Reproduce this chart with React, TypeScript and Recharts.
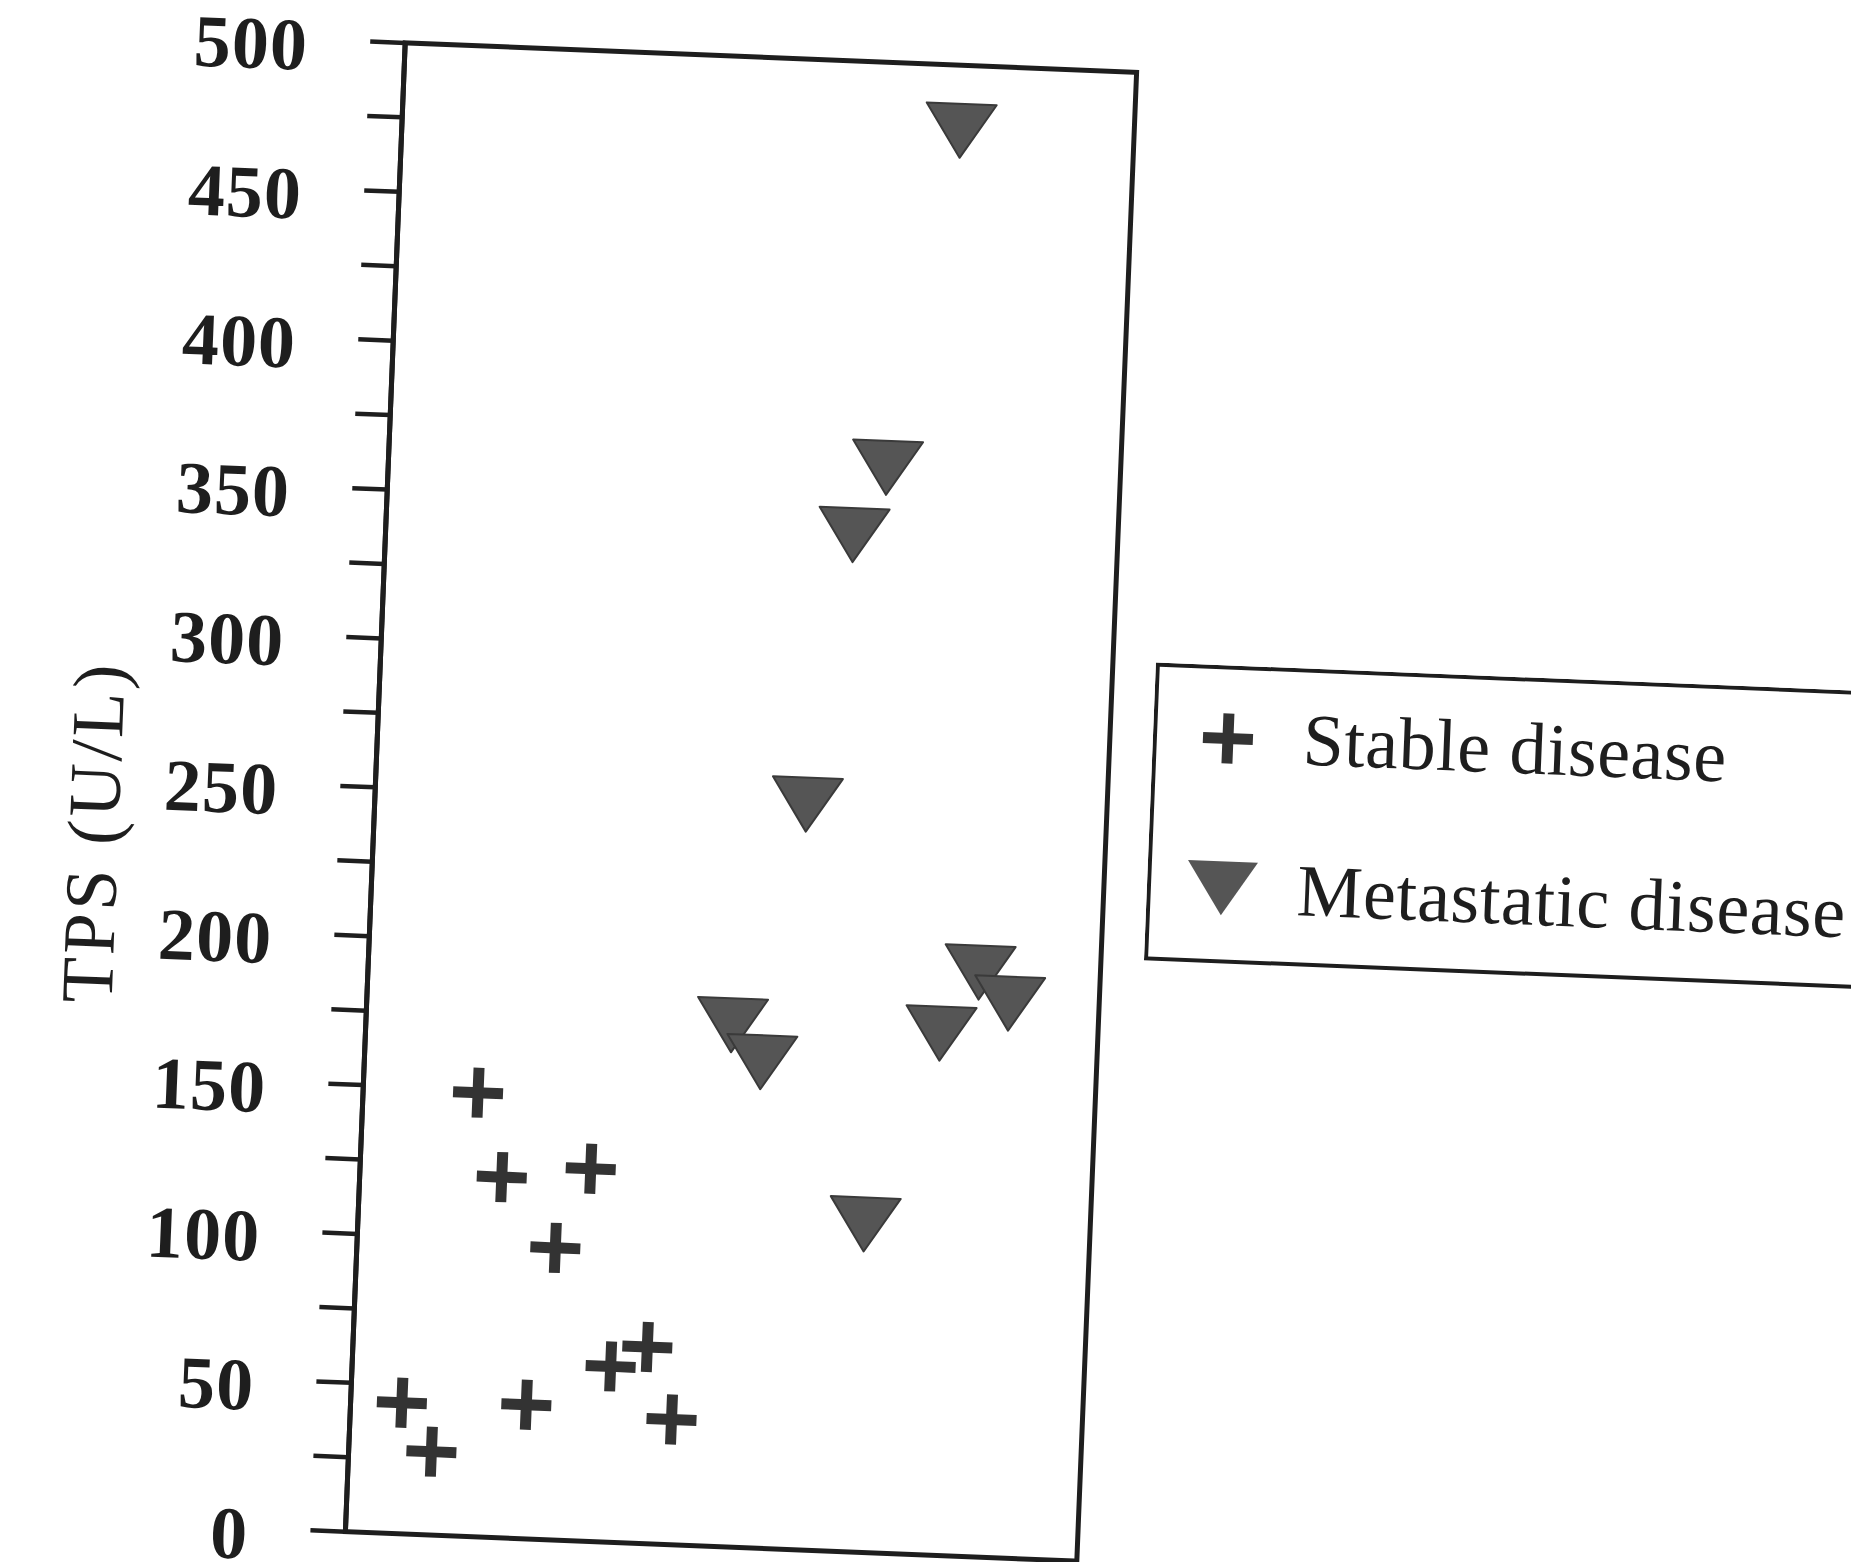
import React from 'react';
import { ScatterChart, Scatter, XAxis, YAxis, ReferenceArea, Legend, Label } from 'recharts';

// values (x has no scale, only relative spread 0-100)
const stableX = [7.0, 11.3, 15.7, 19.4, 31.5, 27.1, 24.0, 35.3, 40.2, 43.9];
const stableY = [44, 28, 149, 121, 125, 98, 45, 59, 66, 42];
const metastaticX = [76.3, 68.1, 63.9, 59.0, 50.0, 54.2, 69.2, 78.5, 83.5, 87.7];
const metastaticY = [478, 364, 341, 250, 175, 163, 110, 175, 196, 186];
const yTicks = [0, 25, 50, 75, 100, 125, 150, 175, 200, 225, 250, 275, 300, 325, 350, 375, 400, 425, 450, 475, 500];
const seriesNames = ['Stable disease', 'Metastatic disease'];
const yTitle = 'TPS\u00a0(U/L)';

const stableData = stableX.map((x, i) => ({ x, y: stableY[i] }));
const metastaticData = metastaticX.map((x, i) => ({ x, y: metastaticY[i] }));

const SERIF = '"Liberation Serif", "Times New Roman", serif';
const INK = '#1e1e1e';

const crossPath = (cx: number, cy: number) => {
  const a = 25, t = 5.5;
  return `M${cx - t},${cy - a}H${cx + t}V${cy - t}H${cx + a}V${cy + t}H${cx + t}V${cy + a}H${cx - t}V${cy + t}H${cx - a}V${cy - t}H${cx - t}Z`;
};
const trianglePath = (cx: number, cy: number) => {
  const w = 35, h = 27;
  return `M${cx - w},${cy - h}L${cx + w},${cy - h}L${cx},${cy + h}Z`;
};

const CrossShape = (props: any) => <path d={crossPath(props.cx, props.cy)} fill="#333" />;
const TriangleShape = (props: any) => (
  <path d={trianglePath(props.cx, props.cy)} fill="#555" stroke="#3a3a3a" strokeWidth={2} strokeLinejoin="round" />
);

const renderTick = ({ x, y, payload }: any) => {
  if (payload.value % 50 !== 0) return <g />;
  return (
    <text x={x} y={y} dy={31} textAnchor="end" fontFamily={SERIF} fontWeight="bold"
      fontSize={74} letterSpacing={1} fill={INK}>
      {payload.value}
    </text>
  );
};

const renderTitle = ({ viewBox }: any) => {
  const cx = viewBox.x + 96;
  const cy = viewBox.y + viewBox.height / 2 + 56;
  return (
    <text x={cx} y={cy} dy={24} textAnchor="middle" transform={`rotate(-90, ${cx}, ${cy})`}
      fontFamily={SERIF} fontSize={74} letterSpacing={3} fill={INK}>
      {yTitle}
    </text>
  );
};

const renderLegend = ({ payload }: any) => {
  const items = [...(payload || [])].sort(
    (a: any, b: any) => seriesNames.indexOf(a.value) - seriesNames.indexOf(b.value)
  );
  return (
    <svg width={760} height={300} style={{ display: 'block' }}>
      <rect x={2} y={2} width={900} height={294} fill="#fff" stroke={INK} strokeWidth={4} />
      {items.map((entry: any, i: number) => {
        const isStable = entry.value === seriesNames[0];
        const cy = i === 0 ? 73 : 223;
        return (
          <g key={entry.value}>
            <path d={isStable ? crossPath(75, cy) : trianglePath(75, cy)} fill={isStable ? '#333' : '#555'} />
            <text x={150} y={i === 0 ? 96 : 247} fontFamily={SERIF} fontSize={74} letterSpacing={0.5} fill={INK}>
              {entry.value}
            </text>
          </g>
        );
      })}
    </svg>
  );
};

export default function App() {
  return (
    <div style={{ position: 'absolute', left: 0, top: 0, width: 1851, height: 1562, overflow: 'hidden', background: '#fff' }}>
      <div style={{ transform: 'rotate(2.3deg)', transformOrigin: '741px 802px' }}>
        <ScatterChart width={1900} height={1640} margin={{ top: 57, right: 793, bottom: 93, left: 0 }}>
          <XAxis type="number" dataKey="x" domain={[0, 100]} hide />
          <YAxis type="number" dataKey="y" domain={[0, 500]} ticks={yTicks} interval={0} width={375}
            axisLine={{ stroke: INK, strokeWidth: 5 }} tickLine={{ stroke: INK, strokeWidth: 4.5 }}
            tickSize={35} tickMargin={62} tick={renderTick} allowDataOverflow>
            <Label content={renderTitle} />
          </YAxis>
          <ReferenceArea x1={0} x2={100} y1={0} y2={500} fill="none" fillOpacity={0} stroke={INK} strokeWidth={5} />
          <Legend layout="horizontal" verticalAlign="middle" align="center" content={renderLegend}
            wrapperStyle={{ left: 1150, top: 646, width: 760, height: 300 }} />
          <Scatter name={seriesNames[0]} data={stableData} fill="#333" shape={CrossShape} isAnimationActive={false} />
          <Scatter name={seriesNames[1]} data={metastaticData} fill="#555" shape={TriangleShape} isAnimationActive={false} />
        </ScatterChart>
      </div>
    </div>
  );
}
